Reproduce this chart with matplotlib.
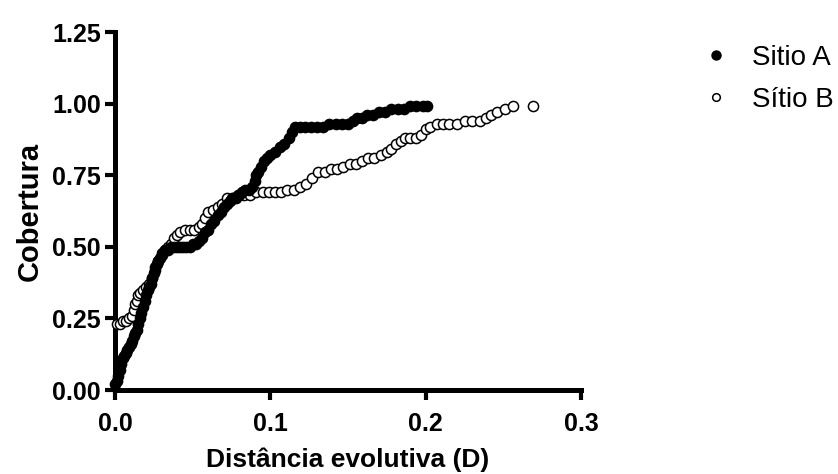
import matplotlib
matplotlib.use("Agg")
import matplotlib.pyplot as plt
from matplotlib.lines import Line2D

# Sitio A (filled)
a_x = [
    0.000, 0.001, 0.002, 0.003, 0.004, 0.005, 0.006, 0.007, 0.008, 0.009,
    0.010, 0.011, 0.012, 0.013, 0.014, 0.015, 0.016, 0.017, 0.018, 0.019,
    0.020, 0.021, 0.022, 0.023, 0.024, 0.025, 0.026, 0.027, 0.028, 0.029,
    0.030, 0.032, 0.034, 0.036, 0.038, 0.040, 0.042, 0.044, 0.046, 0.048,
    0.050, 0.052, 0.054, 0.056, 0.058, 0.060, 0.062, 0.064, 0.066, 0.068,
    0.070, 0.072, 0.074, 0.076, 0.078, 0.080, 0.082, 0.084, 0.086, 0.088,
    0.090, 0.091, 0.092, 0.094, 0.096, 0.098, 0.100, 0.103, 0.106, 0.109,
    0.112, 0.114, 0.116, 0.119, 0.122, 0.126, 0.130, 0.134, 0.138, 0.142,
    0.146, 0.150, 0.153, 0.156, 0.159, 0.162, 0.166, 0.170, 0.174, 0.178,
    0.182, 0.186, 0.190, 0.194, 0.198, 0.201]
a_y = [
    0.02, 0.03, 0.05, 0.07, 0.09, 0.11, 0.12, 0.13, 0.14, 0.15,
    0.16, 0.17, 0.19, 0.20, 0.21, 0.23, 0.25, 0.27, 0.29, 0.31,
    0.33, 0.35, 0.36, 0.37, 0.39, 0.41, 0.43, 0.44, 0.45, 0.46,
    0.48, 0.49, 0.49, 0.50, 0.50, 0.50, 0.50, 0.50, 0.50, 0.50,
    0.51, 0.51, 0.52, 0.53, 0.55, 0.56, 0.58, 0.59, 0.61, 0.62,
    0.64, 0.65, 0.66, 0.67, 0.67, 0.68, 0.69, 0.70, 0.70, 0.71,
    0.73, 0.75, 0.76, 0.78, 0.80, 0.81, 0.82, 0.83, 0.85, 0.86,
    0.88, 0.90, 0.92, 0.92, 0.92, 0.92, 0.92, 0.92, 0.93, 0.93,
    0.93, 0.93, 0.94, 0.95, 0.95, 0.96, 0.96, 0.97, 0.97, 0.98,
    0.98, 0.98, 0.99, 0.99, 0.99, 0.99]

# Sitio B (open)
b_x = [
    0.001, 0.003, 0.005, 0.007, 0.009, 0.011, 0.012, 0.013, 0.014, 0.015,
    0.016, 0.018, 0.020, 0.022, 0.024, 0.026, 0.028, 0.030, 0.032, 0.034,
    0.036, 0.038, 0.040, 0.042, 0.045, 0.048, 0.051, 0.054, 0.056, 0.058,
    0.060, 0.063, 0.066, 0.069, 0.072, 0.075, 0.079, 0.083, 0.087, 0.091,
    0.095, 0.099, 0.103, 0.107, 0.111, 0.115, 0.119, 0.123, 0.127, 0.131,
    0.135, 0.139, 0.143, 0.147, 0.151, 0.155, 0.159, 0.163, 0.167, 0.171,
    0.175, 0.178, 0.181, 0.184, 0.187, 0.190, 0.194, 0.197, 0.200, 0.203,
    0.207, 0.211, 0.215, 0.220, 0.225, 0.230, 0.235, 0.239, 0.242, 0.246,
    0.251, 0.256, 0.269]
b_y = [
    0.23, 0.23, 0.24, 0.24, 0.25, 0.26, 0.28, 0.30, 0.31, 0.33,
    0.34, 0.35, 0.36, 0.37, 0.39, 0.42, 0.45, 0.47, 0.49, 0.50,
    0.51, 0.53, 0.54, 0.55, 0.56, 0.56, 0.56, 0.57, 0.58, 0.60,
    0.62, 0.63, 0.64, 0.65, 0.67, 0.67, 0.68, 0.68, 0.68, 0.69,
    0.69, 0.69, 0.69, 0.69, 0.70, 0.70, 0.71, 0.72, 0.74, 0.76,
    0.76, 0.77, 0.77, 0.78, 0.79, 0.79, 0.80, 0.81, 0.81, 0.82,
    0.83, 0.84, 0.86, 0.87, 0.88, 0.88, 0.88, 0.89, 0.91, 0.92,
    0.93, 0.93, 0.93, 0.93, 0.94, 0.94, 0.94, 0.95, 0.96, 0.97,
    0.98, 0.99, 0.99]

x_ticks = [0.0, 0.1, 0.2, 0.3]
x_labels = ["0.0", "0.1", "0.2", "0.3"]
y_ticks = [0.0, 0.25, 0.5, 0.75, 1.0, 1.25]
y_labels = ["0.00", "0.25", "0.50", "0.75", "1.00", "1.25"]

tick_font = ["Liberation Sans Narrow", "Liberation Sans", "DejaVu Sans"]
label_font = ["Liberation Sans", "DejaVu Sans"]

fig = plt.figure(figsize=(8.38, 4.74), dpi=100)
ax = fig.add_axes([115 / 838, 84 / 474, 466 / 838, 358 / 474])

ax.plot(b_x, b_y, "o", ms=7.3, mfc="white", mec="black", mew=1.1,
        linestyle="none", clip_on=False, zorder=3)
ax.plot(a_x, a_y, "o", ms=7.3, mfc="black", mec="black", mew=1.1,
        linestyle="none", clip_on=False, zorder=4)

ax.set_xlim(0, 0.3)
ax.set_ylim(0, 1.25)
for s in ["top", "right"]:
    ax.spines[s].set_visible(False)
for s in ["left", "bottom"]:
    ax.spines[s].set_linewidth(3.6)
    ax.spines[s].set_capstyle("projecting")

ax.set_xticks(x_ticks)
ax.set_xticklabels(x_labels, family=tick_font, weight="bold", fontsize=18)
ax.set_yticks(y_ticks)
ax.set_yticklabels(y_labels, family=tick_font, weight="bold", fontsize=18)
ax.tick_params(direction="out", length=7, width=3, pad=3)
ax.tick_params(axis="x", pad=9)

ax.set_xlabel("Distância evolutiva (D)", family=label_font, weight="bold",
              fontsize=19, labelpad=8)
ax.set_ylabel("Cobertura", family=label_font, weight="bold",
              fontsize=21, labelpad=6)

handles = [
    Line2D([], [], marker="o", ls="none", ms=6.5, mfc="black", mec="black"),
    Line2D([], [], marker="o", ls="none", ms=5.5, mfc="white", mec="black", mew=1.1),
]
fig.legend(handles, ["Sitio A", "Sítio B"], loc="upper left",
           bbox_to_anchor=(702 / 838, 1 - 45 / 474), frameon=False,
           prop={"family": label_font, "size": 20}, handlelength=1.0,
           handletextpad=0.8, labelspacing=0.56, borderpad=0, borderaxespad=0)

fig.savefig("out.png", dpi=100)
